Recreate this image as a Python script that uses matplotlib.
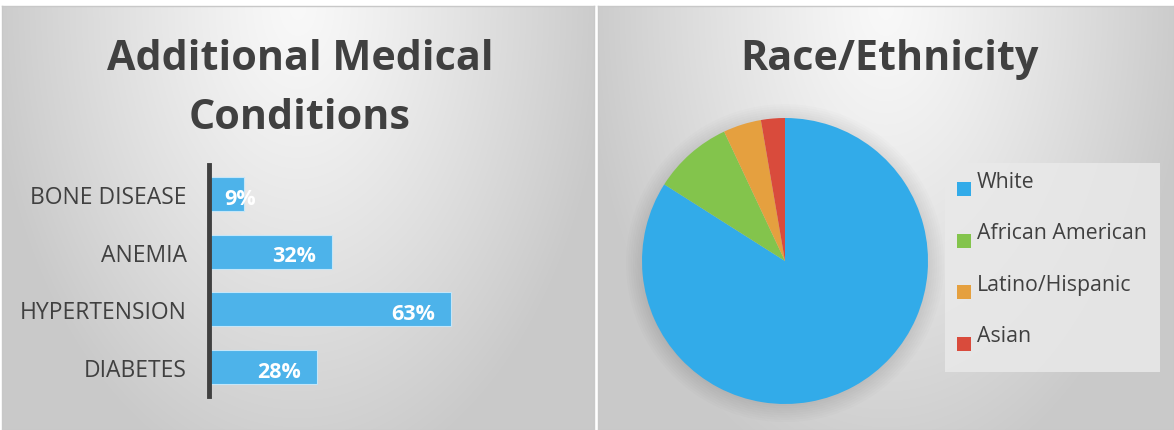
import numpy as np
import matplotlib.pyplot as plt
from matplotlib.patches import Rectangle, Circle

# data
conditions = ['DIABETES', 'HYPERTENSION', 'ANEMIA', 'BONE DISEASE']
condition_pct = [0.28, 0.63, 0.32, 0.09]

races = ['White', 'African American', 'Latino/Hispanic', 'Asian']
race_share = [84, 9, 4.3, 2.7]
race_colors = ['#32abe9', '#83c44c', '#e5a03f', '#d94b3c']

bar_color = '#4db3ea'
text_color = '#404040'
font = ['Open Sans', 'DejaVu Sans']

W, H = 1174, 431
fig = plt.figure(figsize=(W / 100, H / 100), dpi=100)
fig.patch.set_facecolor('white')


def px(x0, y0, w, h):
    # pixel box (top-left origin) -> figure fraction
    return [x0 / W, 1 - (y0 + h) / H, w / W, h / H]


def gradient(nx, ny):
    xx, yy = np.meshgrid(np.linspace(-1, 1, nx), np.linspace(0, 1, ny))
    r = np.sqrt((xx / 1.05) ** 2 + (yy / 1.15) ** 2)
    r = np.clip(r, 0, 1)
    return 0.975 - (0.975 - 0.79) * r ** 1.2


############ background panels ############
for box in [(2, 7, 592, 424), (598, 7, 576, 424)]:
    bg = fig.add_axes(px(*box))
    g = gradient(box[2], box[3])
    bg.imshow(np.dstack([g, g, g]), aspect='auto', extent=(0, 1, 0, 1))
    bg.set_xticks([])
    bg.set_yticks([])
    for s in bg.spines.values():
        s.set_color('#c8c8c8')
        s.set_linewidth(1)

############ left: bar chart ############
fig.text(300 / W, 1 - 60 / H, 'Additional Medical', ha='center', va='center',
         fontsize=29.7, fontweight='bold', color=text_color, family=font)
fig.text(300 / W, 1 - 119 / H, 'Conditions', ha='center', va='center',
         fontsize=29.7, fontweight='bold', color=text_color, family=font)

ax = fig.add_axes(px(209, 166, 371, 231))
ax.patch.set_alpha(0)
y = np.arange(len(conditions))
ax.barh(y, condition_pct, height=0.59, color=bar_color,
        edgecolor='#c5e6f8', linewidth=0.8)
ax.set_ylim(-0.5, len(conditions) - 0.5)
ax.set_xlim(0, 0.966)
ax.set_yticks(y)
ax.set_yticklabels(conditions, fontsize=16.5, color=text_color, family=font)
ax.tick_params(axis='y', length=0, pad=16)
ax.set_xticks([])
for s in ['top', 'right', 'bottom']:
    ax.spines[s].set_visible(False)
ax.spines['left'].set_linewidth(3.5)
ax.spines['left'].set_color(text_color)

for yi, v in zip(y, condition_pct):
    lab = '{:.0f}%'.format(v * 100)
    if v < 0.15:
        ax.annotate(lab, (0, yi), xytext=(11, -3), textcoords='offset points',
                    ha='left', va='center', color='white', fontsize=15.5,
                    fontweight='bold', family=font)
    else:
        ax.annotate(lab, (v, yi), xytext=(-11.5, -3), textcoords='offset points',
                    ha='right', va='center', color='white', fontsize=15.5,
                    fontweight='bold', family=font)

############ right: pie chart ############
fig.text(890 / W, 1 - 60 / H, 'Race/Ethnicity', ha='center', va='center',
         fontsize=29.7, fontweight='bold', color=text_color, family=font)

pax = fig.add_axes(px(642, 119, 286, 286))
pax.patch.set_alpha(0)
# soft shadow
for k in range(8):
    pax.add_patch(Circle((0.0, -0.015), 1.0 + 0.016 * k, color='black',
                         alpha=0.011, lw=0, zorder=0, clip_on=False))
pax.pie(race_share, colors=race_colors, startangle=90, counterclock=False,
        wedgeprops=dict(linewidth=0), radius=1)
pax.set_xlim(-1, 1)
pax.set_ylim(-1, 1)
pax.set_aspect('equal')
pax.axis('off')

# legend box
lax = fig.add_axes(px(945, 164, 215, 209))
lax.set_xlim(945, 1160)
lax.set_ylim(373, 164)
lax.set_facecolor('#e9e9e9')
lax.patch.set_alpha(0.85)
lax.set_xticks([])
lax.set_yticks([])
for s in lax.spines.values():
    s.set_visible(False)
for i, (name, c) in enumerate(zip(races, race_colors)):
    top = 183 + i * 51.5
    lax.add_patch(Rectangle((957, top), 14, 14, color=c, lw=0))
    lax.text(977, top + 5, name, ha='left', va='baseline', fontsize=15.3,
             color=text_color, family=font)

fig.savefig('out.png', dpi=100)
